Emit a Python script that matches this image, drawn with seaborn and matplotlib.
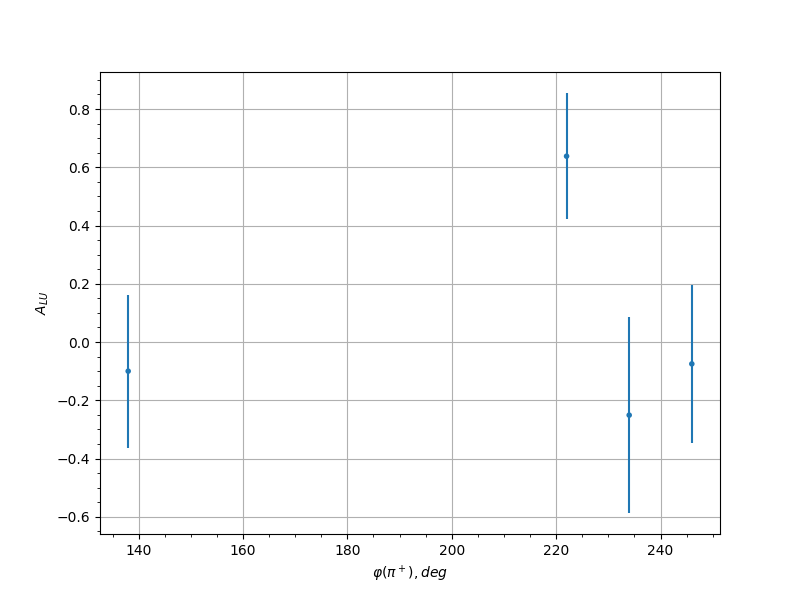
import matplotlib
matplotlib.use('Agg')
import matplotlib.pyplot as plt
import seaborn as sns
import pandas as pd
from matplotlib.ticker import AutoMinorLocator

phi = [138, 222, 234, 246]
alu = [-0.10, 0.638, -0.251, -0.075]
alu_err = [0.263, 0.217, 0.336, 0.271]

df = pd.DataFrame({'phi': phi, 'alu': alu, 'err': alu_err})

fig, ax = plt.subplots(figsize=(8, 6), dpi=100)
ax.errorbar(df['phi'], df['alu'], yerr=df['err'], fmt='none', ecolor='#1f77b4')
sns.scatterplot(data=df, x='phi', y='alu', ax=ax, s=16, color='#1f77b4',
                edgecolor='none', zorder=3)

ax.set_xlabel(r'$\varphi(\pi^+), deg$')
ax.set_ylabel(r'$A_{LU}$')
ax.xaxis.set_minor_locator(AutoMinorLocator())
ax.yaxis.set_minor_locator(AutoMinorLocator())
ax.grid(True, which='major')
ax.set_axisbelow(True)

plt.savefig('out.png')
